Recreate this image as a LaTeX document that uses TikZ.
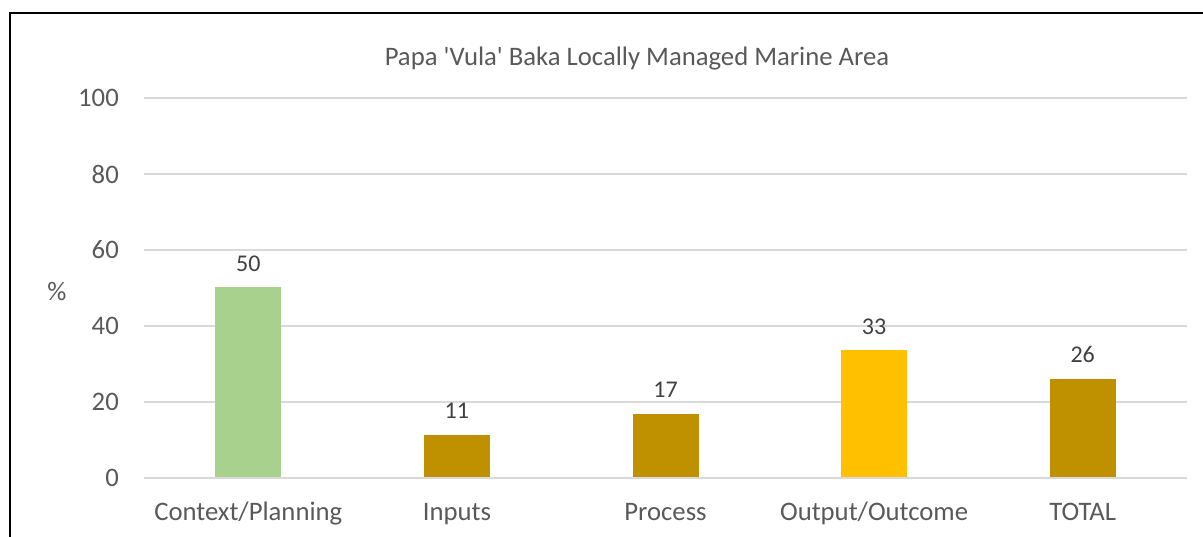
\documentclass[tikz,border=0pt]{standalone}
\usepackage{fontspec}
\setmainfont{Carlito}
\definecolor{axistext}{HTML}{595959}
\definecolor{valtext}{HTML}{404040}
\definecolor{gridc}{HTML}{D9D9D9}
\definecolor{greenbar}{HTML}{A9D18E}
\definecolor{goldbar}{HTML}{BF9000}
\definecolor{yellowbar}{HTML}{FFC000}
\tikzset{
  axlabel/.style={text=axistext, font=\fontsize{26.7}{30}\selectfont, inner sep=0pt},
  catlabel/.style={axlabel, anchor=base},
  vallabel/.style={text=valtext, font=\fontsize{24}{28}\selectfont, inner sep=0pt, anchor=base},
  bar/.style={anchor=south, minimum width=66pt, inner sep=0pt, outer sep=0pt, draw=none},
  grid line/.style={draw=gridc, line width=2pt},
}
\begin{document}
\begin{tikzpicture}[x=1pt,y=-1pt]
\useasboundingbox (0,0) rectangle (1203,536);
% frame
\coordinate (fTL) at (10,12.5);
\coordinate (fR) at (1204,12.5);
\coordinate (fB) at (10,537);
\draw[line width=2pt] (fB) -- (fTL) -- (fR);
% title
\node[axlabel, anchor=base] (title) at (637,65) {Papa \textquotesingle Vula\textquotesingle{} Baka Locally Managed Marine Area};
% grid lines and y labels
\foreach \v/\yy in {0/478,20/402,40/326,60/250,80/174,100/98}{
  \coordinate (gl\v) at (144,\yy);
  \coordinate (gr\v) at (1187,\yy);
  \draw[grid line] (gl\v) -- (gr\v);
  \node[axlabel, anchor=east] (yl\v) at (119,\yy) {\v};
}
\node[axlabel] (pct) at (57,291) {\%};
% bars (1 unit = 3.8pt)
\node[bar, fill=greenbar, minimum height=190pt] (b1) at (248.3,477) {};
\node[bar, fill=goldbar, minimum height=42.2pt] (b2) at (456.9,477) {};
\node[bar, fill=goldbar, minimum height=63.3pt] (b3) at (665.5,477) {};
\node[bar, fill=yellowbar, minimum height=126.7pt] (b4) at (874.1,477) {};
\node[bar, fill=goldbar, minimum height=98.4pt] (b5) at (1082.7,477) {};
% value labels
\node[vallabel] (v1) at ([yshift=16pt]b1.north) {50};
\node[vallabel] (v2) at ([yshift=16pt]b2.north) {11};
\node[vallabel] (v3) at ([yshift=16pt]b3.north) {17};
\node[vallabel] (v4) at ([yshift=16pt]b4.north) {33};
\node[vallabel] (v5) at ([yshift=16pt]b5.north) {26};
% category labels
\node[catlabel] (c1) at (248.3,520) {Context/Planning};
\node[catlabel] (c2) at (456.9,520) {Inputs};
\node[catlabel] (c3) at (665.5,520) {Process};
\node[catlabel] (c4) at (874.1,520) {Output/Outcome};
\node[catlabel] (c5) at (1082.7,520) {TOTAL};
\end{tikzpicture}
\end{document}
